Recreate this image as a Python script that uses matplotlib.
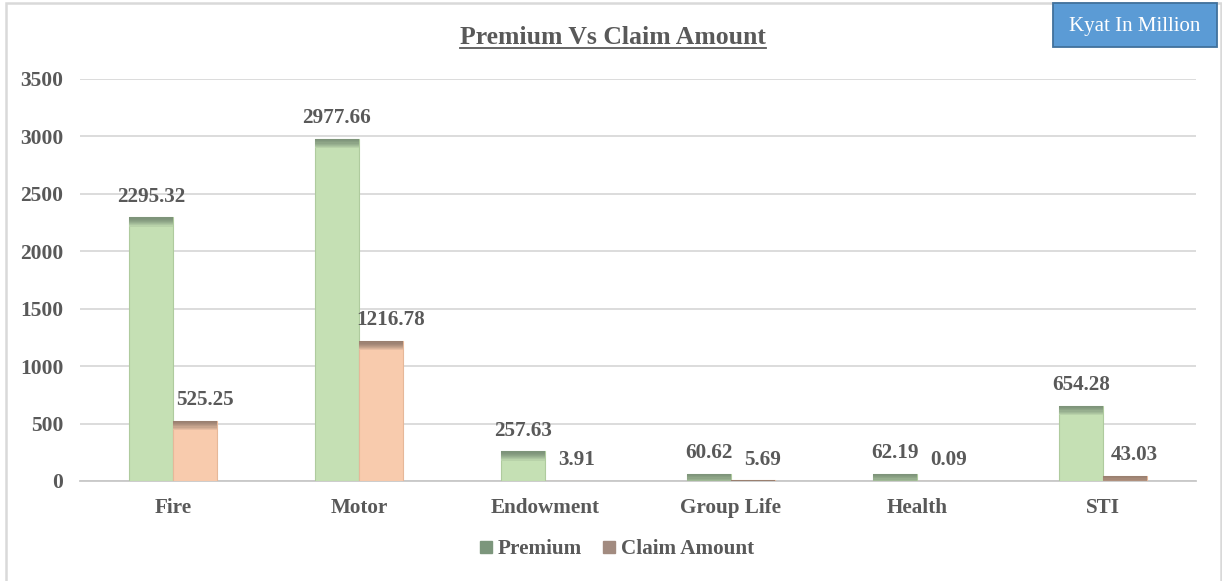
import numpy as np
import matplotlib
matplotlib.use('Agg')
import matplotlib.pyplot as plt
from matplotlib.patches import Rectangle
from matplotlib.lines import Line2D
from matplotlib.colors import to_rgb

categories = ['Fire', 'Motor', 'Endowment', 'Group Life', 'Health', 'STI']
premium = [2295.32, 2977.66, 257.63, 60.62, 62.19, 654.28]
claim = [525.25, 1216.78, 3.91, 5.69, 0.09, 43.03]
y_ticks = [0, 500, 1000, 1500, 2000, 2500, 3000, 3500]

text_gray = '#595959'
font = 'Liberation Serif'

W, H = 1222, 581
fig = plt.figure(figsize=(W / 100, H / 100), dpi=100)
ax = fig.add_axes([80 / W, 1 - 481 / H, (1196 - 80) / W, (481 - 79) / H])

x = np.arange(len(categories))
bw = 0.237


def shaded_bars(xs, vals, fill, top, edge):
    ax.bar(xs, vals, bw, color=fill, edgecolor=edge, linewidth=0.8, zorder=3)
    # darker band at the top of each bar, fading into the fill colour
    n, band = 8, 80.0
    f, t = np.array(to_rgb(fill)), np.array(to_rgb(top))
    for k in range(n):
        c = t + (f - t) * (k / n) ** 1.5
        for xi, v in zip(xs, vals):
            hi = v - k * band / n
            lo = max(0, v - (k + 1) * band / n)
            if hi <= 0:
                continue
            ax.bar(xi, hi - lo, bw, bottom=lo, color=c, linewidth=0, zorder=4)


shaded_bars(x - bw / 2, premium, '#C5E0B4', '#7E947A', '#AFCB9E')
shaded_bars(x + bw / 2, claim, '#F8CBAD', '#9A8070', '#E6B899')

# data labels
for xi, v in zip(x - bw / 2, premium):
    ax.annotate(f'{v:.2f}', (xi, v), xytext=(0, 15), textcoords='offset points',
                ha='center', va='center', fontsize=15.2, fontweight='bold',
                color=text_gray, family=font, zorder=6)
for xi, v in zip(x + bw / 2, claim):
    ax.annotate(f'{v:.2f}', (xi, v), xytext=(7, 15), textcoords='offset points',
                ha='center', va='center', fontsize=15.2, fontweight='bold',
                color=text_gray, family=font, zorder=6)

ax.set_xlim(-0.5, len(categories) - 0.5)
ax.set_ylim(0, 3500)
ax.set_yticks(y_ticks)
ax.set_xticks(x)
ax.set_xticklabels(categories)
ax.grid(axis='y', color='#D9D9D9', linewidth=1.3, zorder=0)
ax.set_axisbelow(True)
for s in ['top', 'right', 'left']:
    ax.spines[s].set_visible(False)
ax.spines['bottom'].set_color('#C8C8C8')
ax.spines['bottom'].set_linewidth(1.3)
ax.tick_params(length=0)
ax.tick_params(axis='y', pad=12)
ax.tick_params(axis='x', pad=12)
for lab in ax.get_xticklabels():
    lab.set_fontsize(15.2)
for lab in ax.get_yticklabels():
    lab.set_fontsize(15.5)
for lab in ax.get_xticklabels() + ax.get_yticklabels():
    lab.set_family(font)
    lab.set_fontweight('bold')
    lab.set_color(text_gray)

# title with underline
title = fig.text(613 / W, 1 - 38 / H, 'Premium Vs Claim Amount', ha='center', va='center',
                 fontsize=18.5, fontweight='bold', color=text_gray, family=font)
fig.canvas.draw()
bb = title.get_window_extent()
uy = 1 - 47.5 / H
fig.add_artist(Line2D([bb.x0 / W, bb.x1 / W], [uy, uy], color=text_gray, linewidth=1.3))

# chart border
fig.add_artist(Rectangle((6 / W, -0.02), (1221 - 6) / W, 1.02 - 3 / H, fill=False,
                         edgecolor='#D9D9D9', linewidth=1.8, zorder=1))

# unit box
fig.add_artist(Rectangle((1053 / W, 1 - 47 / H), (1217 - 1053) / W, 44 / H,
                         facecolor='#5B9BD5', edgecolor='#41719C', linewidth=1.3, zorder=5))
fig.text(1135 / W, 1 - 27 / H, 'Kyat In Million', ha='center', va='center',
         fontsize=15, color='white', family=font, zorder=6)

# legend
handles = [Line2D([], [], marker='s', linestyle='none', markersize=8.5, color='#7C967C'),
           Line2D([], [], marker='s', linestyle='none', markersize=8.5, color='#A28B80')]
leg = fig.legend(handles, ['Premium', 'Claim Amount'], loc='center',
                 bbox_to_anchor=(617 / W, 1 - 549 / H), ncol=2, frameon=False,
                 handletextpad=0.25, columnspacing=1.0, handlelength=0.6,
                 prop={'family': font, 'weight': 'bold', 'size': 15.2})
for t in leg.get_texts():
    t.set_color(text_gray)

fig.savefig('out.png', dpi=100)
